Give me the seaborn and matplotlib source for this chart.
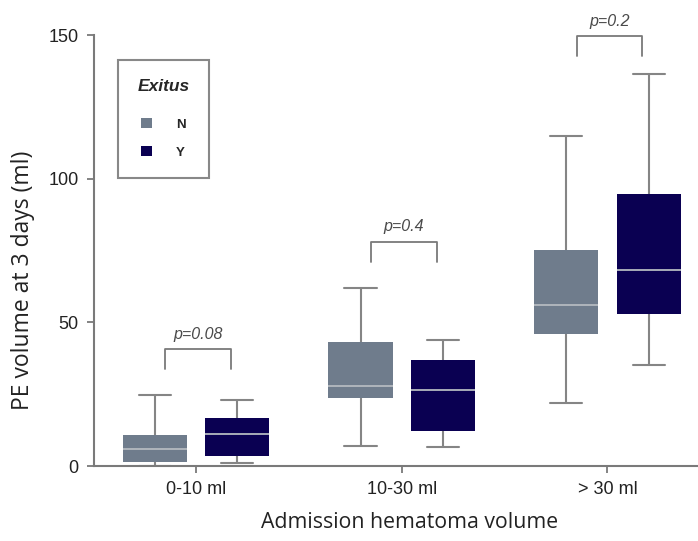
"""
Boxplot of PE volume at 3 days by admission hematoma volume and exitus.
"""

import numpy as np
import pandas as pd
import matplotlib
matplotlib.use("Agg")
import matplotlib.pyplot as plt
from matplotlib.patches import Patch
import seaborn as sns


# ─────────────────────────────────────────────
# Data (five-number summaries)
# ─────────────────────────────────────────────
groups   = ["0-10 ml", "10-30 ml", "> 30 ml"]
exitus   = ["N", "Y"]

# order: min, Q1, median, Q3, max
n_stats = [
    [0.0,  1.3,  5.8,  10.8, 24.7],
    [7.1,  23.5, 27.7, 43.0, 62.0],
    [22.0, 45.8, 56.1, 75.1, 114.8],
]
y_stats = [
    [1.2,  3.6,  11.0, 16.8, 22.9],
    [6.6,  12.3, 26.4, 36.9, 43.8],
    [35.2, 52.8, 68.1, 94.5, 136.6],
]
p_values = ["p=0.08", "p=0.4", "p=0.2"]

colors = {"N": "#6f7c8c", "Y": "#0a0052"}

rows = []
for g, ns, ys in zip(groups, n_stats, y_stats):
    for v in ns:
        rows.append({"group": g, "exitus": "N", "volume": v})
    for v in ys:
        rows.append({"group": g, "exitus": "Y", "volume": v})
df = pd.DataFrame(rows)

# ─────────────────────────────────────────────
# Plot
# ─────────────────────────────────────────────
sns.set_theme(style="white")
plt.rcParams["font.family"] = ["Liberation Sans", "DejaVu Sans"]

fig = plt.figure(figsize=(6.98, 5.41), dpi=100)
ax = fig.add_axes([0.1347, 0.1386, 0.8653, 0.7967])

sns.boxplot(
    data=df, x="group", y="volume", hue="exitus",
    order=groups, hue_order=exitus, palette=colors,
    whis=np.inf, width=0.8, gap=0.22, saturation=1,
    linecolor="#858585", linewidth=1.5,
    boxprops={"linewidth": 0},
    medianprops={"color": "#b4bac0", "linewidth": 1.3},
    ax=ax,
)

ax.set_ylim(0, 150)
ax.set_xlim(-0.495, 2.44)
ax.set_yticks([0, 50, 100, 150])

for s in ["top", "right"]:
    ax.spines[s].set_visible(False)
for s in ["left", "bottom"]:
    ax.spines[s].set_color("#7a7a7a")
    ax.spines[s].set_linewidth(1.5)

ax.tick_params(axis="both", which="both", direction="out", length=5,
               width=1.3, color="#7a7a7a", labelsize=13, labelcolor="#222222",
               bottom=True, left=True)
ax.tick_params(axis="y", pad=6)
ax.tick_params(axis="x", pad=6)

label_font = ["Open Sans", "DejaVu Sans"]
ax.set_ylabel("PE volume at 3 days (ml)", fontsize=16.5, color="#222222",
              family=label_font)
ax.set_xlabel("Admission hematoma volume", fontsize=15.3, color="#222222",
              family=label_font)
ax.yaxis.set_label_coords(-0.098, 0.43)
ax.xaxis.set_label_coords(0.523, -0.106)

# significance brackets
for i, p in enumerate(p_values):
    top_whisker = max(n_stats[i][-1], y_stats[i][-1])
    y0 = top_whisker + 9 if i < 2 else top_whisker + 6
    y1 = y0 + 7
    x0, x1 = i - 0.15, i + 0.17
    ax.plot([x0, x0, x1, x1], [y0, y1, y1, y0], color="#7a7a7a",
            linewidth=1.3, clip_on=False)
    ax.text((x0 + x1) / 2, y1 + 5.2, p, ha="center", va="center",
            fontsize=11.5, style="italic", color="#4a4a4a", clip_on=False)

# legend
handles = [Patch(facecolor=colors[e], edgecolor="none", label=e) for e in exitus]
leg = ax.legend(
    handles=handles, title="Exitus", loc="upper left",
    bbox_to_anchor=(0.04, 0.942), frameon=True, fancybox=False,
    borderpad=1.45, handlelength=0.85, handleheight=0.85,
    handletextpad=1.8, labelspacing=1.15, borderaxespad=0,
    prop={"weight": "bold", "size": 9.5},
)
leg.get_title().set_fontweight("bold")
leg.get_title().set_fontstyle("italic")
leg.get_title().set_fontsize(12.5)
leg._legend_box.sep = 17
frame = leg.get_frame()
frame.set_edgecolor("#6a6a6a")
frame.set_linewidth(1.5)

plt.savefig("out.png", dpi=100)
plt.close()
